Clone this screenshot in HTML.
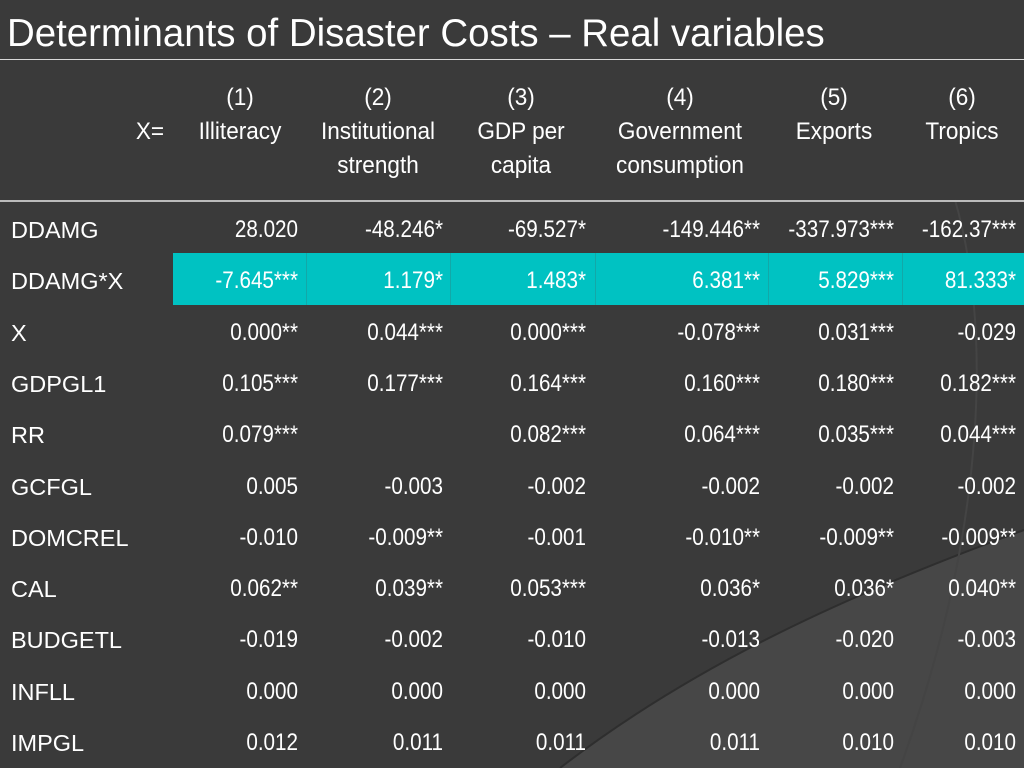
<!DOCTYPE html>
<html><head><meta charset="utf-8">
<style>
html,body{margin:0;padding:0}
body{width:1024px;height:768px;background:#3a3a3a;position:relative;overflow:hidden;font-family:"Liberation Sans",Arial,sans-serif;color:#fff}
#bg{position:absolute;left:0;top:0}
.title{position:absolute;left:7px;top:12px;font-size:39px;white-space:nowrap;transform:scaleX(0.985);transform-origin:left center}
.hl{position:absolute;left:0;width:1024px;background:#d8d8d8}
.t{position:absolute;white-space:nowrap;font-size:24px;line-height:28px}
.lab{font-size:23.5px}
.n{transform:scaleX(0.86);transform-origin:right center;text-align:right}
.h{transform:scaleX(0.94);transform-origin:center center;text-align:center;font-size:24px;line-height:34px}
.hi{position:absolute;left:173px;top:253px;width:851px;height:52px;background:#00c2c2}
.div{position:absolute;top:253px;height:52px;width:1px;background:#12a8a8}
</style></head><body>
<svg id="bg" width="1024" height="768">
<path d="M560,768 C700,660 860,590 1024,530 L1024,768 Z" fill="#474747"/>
<path d="M560,768 C700,660 860,590 1024,530" stroke="#2e2e2e" stroke-width="2" fill="none"/>
<path d="M955,200 C990,320 990,520 900,768" stroke="#444" stroke-width="2" fill="none"/>
</svg>
<div class="title">Determinants of Disaster Costs – Real variables</div>
<div class="hl" style="top:59px;height:1px"></div>
<div class="hl" style="top:200px;height:2px;background:#bbb"></div>
<div class="hi"></div>
<div id="tbl"></div>
<script>
const headers=[["(1)","Illiteracy",""],["(2)","Institutional","strength"],["(3)","GDP per","capita"],["(4)","Government","consumption"],["(5)","Exports",""],["(6)","Tropics",""]];
const rowLabels=["DDAMG","DDAMG*X","X","GDPGL1","RR","GCFGL","DOMCREL","CAL","BUDGETL","INFLL","IMPGL"];
const values=[
["28.020","-48.246*","-69.527*","-149.446**","-337.973***","-162.37***"],
["-7.645***","1.179*","1.483*","6.381**","5.829***","81.333*"],
["0.000**","0.044***","0.000***","-0.078***","0.031***","-0.029"],
["0.105***","0.177***","0.164***","0.160***","0.180***","0.182***"],
["0.079***","","0.082***","0.064***","0.035***","0.044***"],
["0.005","-0.003","-0.002","-0.002","-0.002","-0.002"],
["-0.010","-0.009**","-0.001","-0.010**","-0.009**","-0.009**"],
["0.062**","0.039**","0.053***","0.036*","0.036*","0.040**"],
["-0.019","-0.002","-0.010","-0.013","-0.020","-0.003"],
["0.000","0.000","0.000","0.000","0.000","0.000"],
["0.012","0.011","0.011","0.011","0.010","0.010"]];
const colRight=[298,443,586,760,894,1016];
const colCenter=[240,378,521,680,834,962];
const dividers=[306,450,595,768,902];
const tbl=document.getElementById('tbl');
function mk(cls,txt,css){const d=document.createElement('div');d.className=cls;d.textContent=txt;d.style.cssText=css;tbl.appendChild(d);return d;}
dividers.forEach(x=>{const d=mk('div','','left:'+x+'px');

});
const xl=mk('t h','X=','left:110px;width:80px;top:115px');


headers.forEach((h,i)=>{h.forEach((line,j)=>{if(!line)return;
const d=mk('t h',line,'left:'+(colCenter[i]-100)+'px;width:200px;top:'+(81+j*34)+'px');

});});
rowLabels.forEach((lab,r)=>{const cy=230+r*51.3;
const d=mk('t lab',lab,'left:11px;top:'+(cy-14)+'px');


values[r].forEach((v,c)=>{if(!v)return;
const e=mk('t n',v,'left:'+(colRight[c]-200)+'px;width:200px;top:'+(cy-14)+'px');

});});
</script>
</body></html>
